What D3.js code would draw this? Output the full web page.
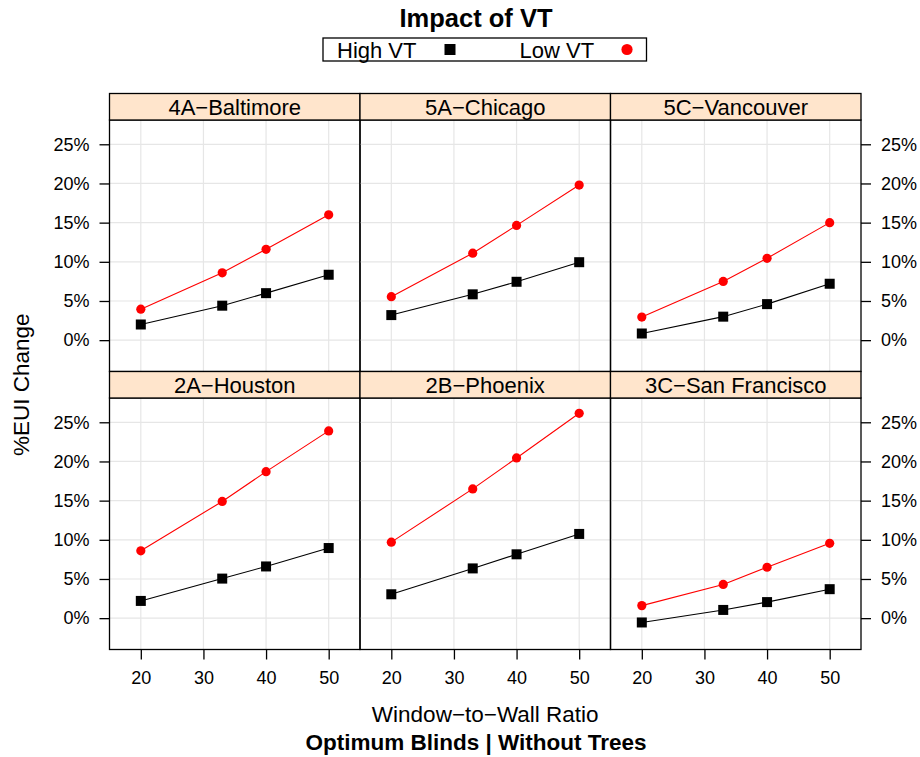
<!DOCTYPE html>
<html>
<head>
<meta charset="utf-8">
<script src="https://cdn.jsdelivr.net/npm/d3@7"></script>
<style>
  html, body { margin: 0; padding: 0; background: #fff; }
  svg { display: block; font-family: "Liberation Sans", Arial, Helvetica, sans-serif; }
</style>
</head>
<body>
<svg id="chart" width="920" height="757"></svg>
<script>
// Window-to-wall ratios simulated
const wwr = [20, 33, 40, 50];
const xTicks = [20, 30, 40, 50];
const yTicks = [0, 5, 10, 15, 20, 25];
const yTickLabels = ["0%", "5%", "10%", "15%", "20%", "25%"];

// Panels, in reading order (top row, then bottom row)
const cities = ["4A\u2212Baltimore", "5A\u2212Chicago", "5C\u2212Vancouver",
                "2A\u2212Houston", "2B\u2212Phoenix", "3C\u2212San Francisco"];

// %EUI change per city, at each WWR
const highVT = [
  [2.0, 4.4, 6.0, 8.35],
  [3.2, 5.85, 7.45, 9.95],
  [0.85, 3.0, 4.6, 7.2],
  [2.2, 5.05, 6.6, 8.95],
  [3.05, 6.35, 8.15, 10.75],
  [-0.55, 1.05, 2.05, 3.7]
];
const lowVT = [
  [3.95, 8.6, 11.6, 16.0],
  [5.55, 11.1, 14.65, 19.8],
  [2.95, 7.5, 10.45, 15.0],
  [8.6, 14.9, 18.7, 23.9],
  [9.7, 16.5, 20.45, 26.15],
  [1.6, 4.3, 6.5, 9.55]
];

const seriesNames = ["High VT", "Low VT"];
const seriesColors = ["#000000", "#ff0000"];

const svg = d3.select("#chart");

// panel layout
const plotLeft = 109.5, plotRight = 861, plotTop = 93.5;
const nCols = 3, nRows = 2;
const stripH = 26.5, panelH = 251.5;
const colW = (plotRight - plotLeft) / nCols;

const x = d3.scaleLinear().domain([15, 55]).range([0, colW]);
const y = d3.scaleLinear().domain([-4.0, 28.1]).range([panelH, 0]);

const line = d3.line().x((d, i) => x(wwr[i])).y(d => y(d));

cities.forEach((city, k) => {
  const col = k % nCols, row = Math.floor(k / nCols);
  const px = plotLeft + col * colW;
  const py = plotTop + row * (stripH + panelH) + stripH;
  const g = svg.append("g").attr("transform", `translate(${px},${py})`);

  // grid
  g.selectAll("line.vg").data(xTicks).join("line")
    .attr("class", "vg")
    .attr("x1", d => x(d)).attr("x2", d => x(d))
    .attr("y1", 0).attr("y2", panelH)
    .attr("stroke", "#e6e6e6").attr("stroke-width", 1.2);
  g.selectAll("line.hg").data(yTicks).join("line")
    .attr("class", "hg")
    .attr("x1", 0).attr("x2", colW)
    .attr("y1", d => y(d)).attr("y2", d => y(d))
    .attr("stroke", "#e6e6e6").attr("stroke-width", 1.2);

  // series
  [highVT[k], lowVT[k]].forEach((vals, s) => {
    g.append("path").datum(vals)
      .attr("d", line)
      .attr("fill", "none")
      .attr("stroke", seriesColors[s])
      .attr("stroke-width", 1.1);
    if (s === 0) {
      g.selectAll("rect.pt").data(vals).join("rect")
        .attr("class", "pt")
        .attr("x", (d, i) => x(wwr[i]) - 5)
        .attr("y", d => y(d) - 5)
        .attr("width", 10).attr("height", 10)
        .attr("fill", seriesColors[s]);
    } else {
      g.selectAll("circle.pt").data(vals).join("circle")
        .attr("class", "pt")
        .attr("cx", (d, i) => x(wwr[i]))
        .attr("cy", d => y(d))
        .attr("r", 4.6)
        .attr("fill", seriesColors[s]);
    }
  });

  // panel frame
  g.append("rect")
    .attr("x", 0).attr("y", 0).attr("width", colW).attr("height", panelH)
    .attr("fill", "none").attr("stroke", "#000").attr("stroke-width", 1.3);

  // strip
  const sg = svg.append("g").attr("transform", `translate(${px},${py - stripH})`);
  sg.append("rect")
    .attr("width", colW).attr("height", stripH)
    .attr("fill", "#ffe5cc").attr("stroke", "#000").attr("stroke-width", 1.3);
  sg.append("text")
    .attr("x", colW / 2).attr("y", stripH - 5.5)
    .attr("text-anchor", "middle")
    .attr("font-size", 22)
    .attr("fill", "#000")
    .text(city);

  // axes
  const fmt = d => yTickLabels[yTicks.indexOf(d)];
  if (col === 0) {
    const ax = g.append("g").call(d3.axisLeft(y).tickValues(yTicks).tickFormat(fmt).tickSize(10).tickPadding(10));
    styleAxis(ax);
  }
  if (col === nCols - 1) {
    const ax = g.append("g").attr("transform", `translate(${colW},0)`)
      .call(d3.axisRight(y).tickValues(yTicks).tickFormat(fmt).tickSize(10).tickPadding(10));
    styleAxis(ax);
  }
  if (row === nRows - 1) {
    const ax = g.append("g").attr("transform", `translate(0,${panelH})`)
      .call(d3.axisBottom(x).tickValues(xTicks).tickFormat(d3.format("d")).tickSize(10).tickPadding(12));
    styleAxis(ax);
  }
});

function styleAxis(ax) {
  ax.select(".domain").remove();
  ax.selectAll(".tick line").attr("stroke", "#000").attr("stroke-width", 1.3);
  ax.selectAll(".tick text").attr("font-size", 18).attr("fill", "#000")
    .attr("font-family", "Liberation Sans, Arial, sans-serif");
}

// title
svg.append("text")
  .attr("x", 476).attr("y", 27)
  .attr("text-anchor", "middle")
  .attr("font-size", 25.5).attr("font-weight", "bold")
  .text("Impact of VT");

// legend
const lg = svg.append("g");
lg.append("rect")
  .attr("x", 323).attr("y", 38).attr("width", 323.5).attr("height", 23)
  .attr("fill", "#fff").attr("stroke", "#000").attr("stroke-width", 1.3);
const legendTextX = [337, 519.5];
const legendMarkX = [450, 627];
seriesNames.forEach((name, s) => {
  lg.append("text")
    .attr("x", legendTextX[s]).attr("y", 57.5)
    .attr("font-size", 22)
    .text(name);
  if (s === 0) {
    lg.append("rect")
      .attr("x", legendMarkX[s] - 5.5).attr("y", 49.5 - 5.5)
      .attr("width", 11).attr("height", 11)
      .attr("fill", seriesColors[s]);
  } else {
    lg.append("circle")
      .attr("cx", legendMarkX[s]).attr("cy", 49.5).attr("r", 5.6)
      .attr("fill", seriesColors[s]);
  }
});

// axis titles
svg.append("text")
  .attr("transform", `translate(29,${plotTop + stripH + (2 * panelH + stripH) / 2}) rotate(-90)`)
  .attr("text-anchor", "middle")
  .attr("font-size", 22.5)
  .text("%EUI Change");

svg.append("text")
  .attr("x", (plotLeft + plotRight) / 2).attr("y", 722)
  .attr("text-anchor", "middle")
  .attr("font-size", 22.5)
  .text("Window\u2212to\u2212Wall Ratio");

svg.append("text")
  .attr("x", 476).attr("y", 750)
  .attr("text-anchor", "middle")
  .attr("font-size", 22.5).attr("font-weight", "bold")
  .text("Optimum Blinds | Without Trees");
</script>
</body>
</html>
